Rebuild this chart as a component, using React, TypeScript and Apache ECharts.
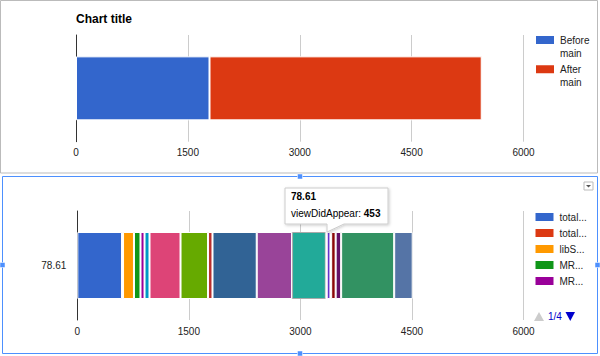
import React, { useEffect, useRef } from 'react';
import * as echarts from 'echarts';

// ---------- data ----------
const topCategories = [''];
const topSeriesNames = ['Before main', 'After main'];
const beforeMain = [1790];
const afterMain = [3650];
const topColors = ['#3366cc', '#dc3912'];

const bottomCategories = ['78.61'];
const stepNames = [
  'totalLoadTime',
  'totalRebaseTime',
  'libSQLite3.dylib',
  'MRMagicalRecordSetup',
  'MRMigrationManager',
  'applicationWillLaunch',
  'didFinishLaunching',
  'loadRootViewController',
  'setupAppearance',
  'fetchUserSession',
  'loadMainStoryboard',
  'viewDidAppear',
  'analyticsStart',
  'registerNotifications',
  'crashReporterInit',
  'loadFeatureFlags',
  'prefetchImages',
  'syncRemoteData',
  'firstFrameRendered',
];
const stepValues = [601, 14, 147, 88, 54, 67, 417, 370, 60, 595, 475, 453, 13, 50, 10, 60, 74, 713, 249];
const palette = [
  '#3366cc', '#dc3912', '#ff9900', '#109618', '#990099', '#0099c6', '#dd4477',
  '#66aa00', '#b82e2e', '#316395', '#994499', '#22aa99', '#aaaa11', '#6633cc',
  '#e67300', '#8b0707', '#651067', '#329262', '#5574a6',
];
const highlightedStep = 11;
const legendPageSize = 5;
const legendPage = 1;

const axisMin = 0;
const axisMax = 6000;
const axisInterval = 1500;

const font = 'Arial, "Liberation Sans", sans-serif';

// width-based truncation of legend labels (like the original chart does)
function makeTruncator(maxWidth: number, cssFont: string) {
  const canvas = document.createElement('canvas');
  const ctx = canvas.getContext('2d')!;
  ctx.font = cssFont;
  return (name: string) => {
    if (ctx.measureText(name).width <= maxWidth) return name;
    let k = name.length;
    while (k > 1 && ctx.measureText(name.slice(0, k) + '...').width > maxWidth) k--;
    return name.slice(0, k) + '...';
  };
}

export default function App() {
  const ref = useRef<HTMLDivElement>(null);

  useEffect(() => {
    document.body.style.margin = '0';
    const chart = echarts.init(ref.current!, null, { renderer: 'svg' });
    const truncate = makeTruncator(30, '10px Arial, "Liberation Sans", sans-serif');

    const xAxisBase = (gridIndex: number) => ({
      type: 'value',
      gridIndex,
      min: axisMin,
      max: axisMax,
      interval: axisInterval,
      axisLine: { show: false },
      axisTick: { show: false },
      splitLine: { show: true, lineStyle: { color: '#cccccc', width: 1 } },
      axisLabel: {
        color: '#222',
        fontSize: 10,
        fontFamily: font,
        margin: 6,
        formatter: (v: number) => String(v),
      },
    });

    const bottomSeries = stepNames.map((name, i) => ({
      type: 'bar',
      name,
      xAxisIndex: 1,
      yAxisIndex: 1,
      stack: 'bottom',
      barWidth: 67,
      data: [stepValues[i]],
      itemStyle: {
        color: palette[i],
        borderColor: i === highlightedStep ? '#aaaaaa' : '#ffffff',
        borderWidth: 1,
      },
      emphasis: { disabled: true },
    }));

    const tipText =
      `{b|${bottomCategories[0]}}\n{n|${stepNames[highlightedStep]}: }{b|${stepValues[highlightedStep]}}`;
    const totalPages = Math.ceil(stepNames.length / legendPageSize);

    const option: any = {
      animation: false,
      backgroundColor: '#ffffff',
      title: {
        text: 'Chart title',
        left: 76,
        top: 11.5,
        padding: 0,
        textStyle: { fontSize: 12, fontWeight: 'bold', color: '#000', fontFamily: font, lineHeight: 14 },
      },
      grid: [
        { left: 76, right: 76.5, top: 35, height: 106.7 },
        { left: 77.3, right: 76.5, top: 211, height: 109 },
      ],
      xAxis: [xAxisBase(0), xAxisBase(1)],
      yAxis: [
        {
          type: 'category',
          gridIndex: 0,
          data: topCategories,
          axisLine: { show: true, lineStyle: { color: '#333', width: 1 } },
          axisTick: { show: false },
          axisLabel: { show: false },
        },
        {
          type: 'category',
          gridIndex: 1,
          data: bottomCategories,
          axisLine: { show: true, lineStyle: { color: '#333', width: 1 } },
          axisTick: { show: false },
          axisLabel: { color: '#222', fontSize: 10, fontFamily: font, margin: 11 },
        },
      ],
      legend: [
        {
          data: topSeriesNames,
          orient: 'vertical',
          left: 534,
          top: 20.5,
          padding: 0,
          itemWidth: 20,
          itemHeight: 10,
          itemGap: -9.7,
          icon: 'rect',
          selectedMode: false,
          formatter: (n: string) => ' \n' + n.replace(' ', '\n'),
          textStyle: {
            fontSize: 10,
            lineHeight: 13,
            color: '#222',
            fontFamily: font,
          },
        },
        {
          data: stepNames.slice((legendPage - 1) * legendPageSize, legendPage * legendPageSize),
          orient: 'vertical',
          left: 533.5,
          top: 211,
          padding: 0,
          itemWidth: 20,
          itemHeight: 10,
          itemGap: 4,
          icon: 'rect',
          selectedMode: false,
          formatter: (n: string) => truncate(n),
          textStyle: {
            fontSize: 10,
            lineHeight: 10,
            color: '#222',
            fontFamily: font,
          },
        },
      ],
      series: [
        {
          type: 'bar',
          name: topSeriesNames[0],
          xAxisIndex: 0,
          yAxisIndex: 0,
          stack: 'top',
          barWidth: 64,
          data: beforeMain,
          itemStyle: { color: topColors[0], borderColor: '#ffffff', borderWidth: 1 },
        },
        {
          type: 'bar',
          name: topSeriesNames[1],
          xAxisIndex: 0,
          yAxisIndex: 0,
          stack: 'top',
          barWidth: 64,
          data: afterMain,
          itemStyle: { color: topColors[1], borderColor: '#ffffff', borderWidth: 1 },
        },
        ...bottomSeries,
      ],
      graphic: [
        {
          type: 'rect',
          z: 90,
          shape: { x: 0.5, y: 0.5, width: 597, height: 172.5 },
          style: { fill: 'none', stroke: '#bbbbbb', lineWidth: 1 },
          silent: true,
        },
        {
          type: 'rect',
          z: 90,
          shape: { x: 2.5, y: 176.5, width: 595, height: 177 },
          style: { fill: 'none', stroke: '#4d90fe', lineWidth: 1 },
          silent: true,
        },
        ...[
          [300, 176.5],
          [2.5, 265],
          [597.5, 265],
          [300, 353.5],
        ].map(([cx, cy]) => ({
          type: 'rect',
          z: 91,
          shape: { x: cx - 2.5, y: cy - 2.5, width: 5, height: 5 },
          style: { fill: '#4d90fe', stroke: '#ffffff', lineWidth: 0.5 },
          silent: true,
        })),
        {
          type: 'rect',
          z: 91,
          shape: { x: 584, y: 182, width: 9, height: 8 },
          style: { fill: '#fff', stroke: '#bbbbbb', lineWidth: 1 },
          silent: true,
        },
        {
          type: 'polygon',
          z: 92,
          shape: { points: [[586, 185], [591, 185], [588.5, 187.5]] },
          style: { fill: '#555' },
          silent: true,
        },
        // legend pager
        {
          type: 'polygon',
          z: 92,
          shape: { points: [[534, 321], [544, 321], [539, 312]] },
          style: { fill: '#cccccc' },
          silent: true,
        },
        {
          type: 'text',
          z: 92,
          x: 548,
          y: 316.5,
          style: {
            text: `${legendPage}/${totalPages}`,
            fill: '#0000cc',
            fontSize: 10,
            fontFamily: font,
            verticalAlign: 'middle',
          },
          silent: true,
        },
        {
          type: 'polygon',
          z: 92,
          shape: { points: [[565.5, 312], [575, 312], [570.25, 321]] },
          style: { fill: '#0000cc' },
          silent: true,
        },
        // tooltip
        {
          type: 'polygon',
          z: 100,
          shape: {
            points: [[285, 188], [388, 188], [388, 224], [344, 224], [327, 232], [327, 224], [285, 224]],
          },
          style: {
            fill: '#ffffff',
            stroke: '#cccccc',
            lineWidth: 1,
            shadowBlur: 3,
            shadowColor: 'rgba(0,0,0,0.2)',
            shadowOffsetX: 1,
            shadowOffsetY: 1,
          },
          silent: true,
        },
        {
          type: 'text',
          z: 101,
          x: 291,
          y: 188.4,
          style: {
            text: tipText,
            fill: '#000',
            rich: {
              b: { fontWeight: 'bold', fontSize: 10, lineHeight: 16.6, fontFamily: font, fill: '#000' },
              n: { fontSize: 10, lineHeight: 16.6, fontFamily: font, fill: '#000' },
            },
          },
          silent: true,
        },
      ],
    };

    chart.setOption(option);
    return () => chart.dispose();
  }, []);

  return (
    <div
      ref={ref}
      style={{ position: 'fixed', left: 0, top: 0, width: 600, height: 356 }}
    />
  );
}
